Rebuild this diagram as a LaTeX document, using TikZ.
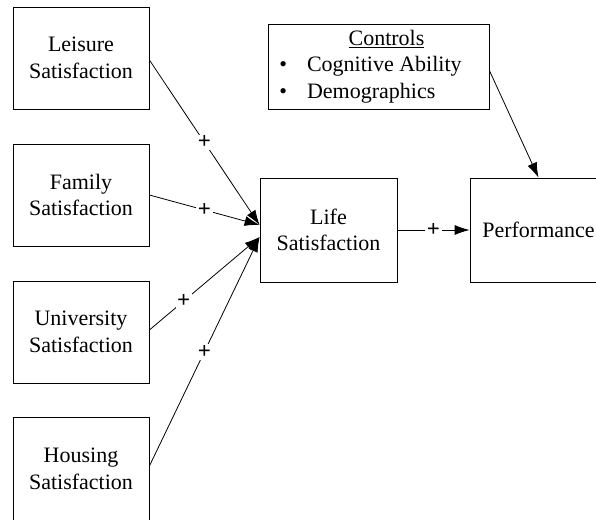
\documentclass[tikz,border=0pt]{standalone}
\usepackage{fontspec}
\setmainfont{Liberation Serif}
\usetikzlibrary{arrows.meta}
\begin{document}
\begin{tikzpicture}[x=1pt,y=-1pt,font=\fontsize{22}{26.5}\selectfont]

      \useasboundingbox (0,0) rectangle (596,519);
      \clip (0,0) rectangle (596,519);

      \begin{scope}[every node/.style={draw,line width=.8pt,minimum width=136pt,minimum height=102pt,align=center,inner sep=0pt}]
        \node (leis) at (81,58)  {Leisure\\Satisfaction};
        \node (fam)  at (81,195) {Family\\Satisfaction};
        \node (univ) at (81,332) {University\\Satisfaction};
        \node (hous) at (81,469) [minimum height=104pt] {Housing\\Satisfaction};
        \node (life) at (328.5,230) [minimum width=137pt,minimum height=104pt] {Life\\Satisfaction};
        \node (perf) at (538.5,230) [minimum width=137pt,minimum height=104pt] {Performance};
        \node (ctrl) at (378.5,66.5) [minimum width=221pt,minimum height=85pt]
          {\begin{tabular}{@{}l@{\hspace{20pt}}l@{\hspace{16pt}}}
             \multicolumn{2}{c}{\hspace{16pt}\underline{Controls}}\\
             \textbullet & Cognitive Ability\\
             \textbullet & Demographics
           \end{tabular}};
      \end{scope}

      \begin{scope}[every node/.style={fill=white,inner sep=1.5pt,font=\fontsize{23}{23}\selectfont\bfseries}]

        \begin{scope}[every edge/.style={draw,line width=.8pt,-{Latex[length=15pt,width=10pt]}}]
          \path ([yshift=-2pt]leis.east) edge node {+} ([yshift=5pt]life.west);
          \path (fam.east)  edge node {+} ([yshift=5pt]life.west);
          \path ([yshift=2pt]univ.east) edge node[pos=.31] {+} ([yshift=-7pt]life.west);
          \path ([yshift=3pt]hous.east) edge node {+} ([yshift=-7pt]life.west);
          \path (life.east) edge node {+} (perf.west);
          \path ([yshift=-4pt]ctrl.east) edge (perf.north);
        \end{scope}
      \end{scope}

    \end{tikzpicture}
\end{document}
